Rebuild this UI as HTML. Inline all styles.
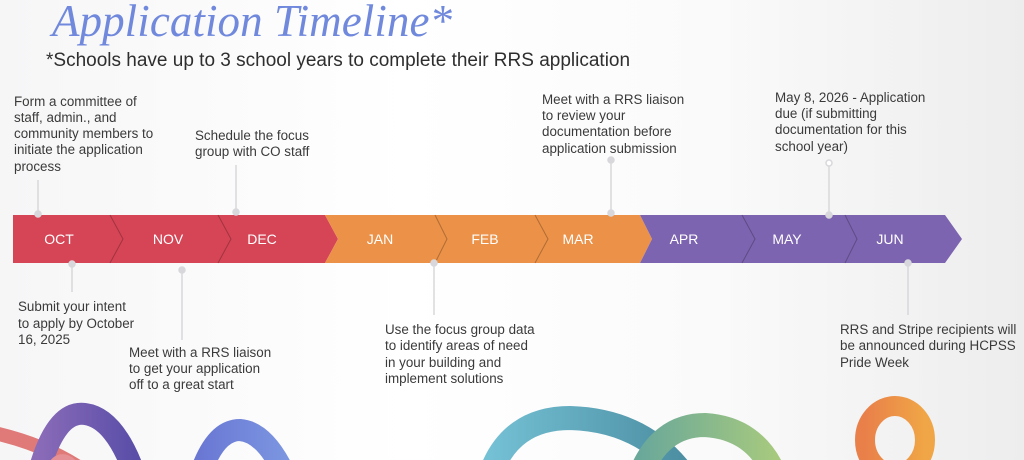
<!DOCTYPE html>
<html><head><meta charset="utf-8"><style>
html,body{margin:0;padding:0;}
body{width:1024px;height:460px;overflow:hidden;background:linear-gradient(90deg,#f6f6f7,#fff 40%,#fafafa 70%,#ededee);position:relative;font-family:"Liberation Sans",sans-serif;}
svg{position:absolute;left:0;top:0;}
</style></head><body>
<svg width="1024" height="460" viewBox="0 0 1024 460" xmlns="http://www.w3.org/2000/svg">
<defs>
<linearGradient id="g1" x1="0" x2="1"><stop offset="0" stop-color="#8a6bb8"/><stop offset="1" stop-color="#5a4ea8"/></linearGradient>
<linearGradient id="g2" x1="0" x2="1"><stop offset="0" stop-color="#6a78d4"/><stop offset="1" stop-color="#7b95e0"/></linearGradient>
<linearGradient id="g3" x1="0" x2="1"><stop offset="0" stop-color="#74c0d4"/><stop offset="1" stop-color="#4d8fa3"/></linearGradient>
<linearGradient id="g4" x1="0" x2="1"><stop offset="0" stop-color="#6aa89a"/><stop offset="1" stop-color="#a6c97e"/></linearGradient>
<linearGradient id="g5" x1="0" x2="1"><stop offset="0" stop-color="#e9804a"/><stop offset="1" stop-color="#f0a646"/></linearGradient>
</defs>
<!-- ribbons -->
<path d="M-10 432 Q50 445 90 475" fill="none" stroke="#e07a78" stroke-width="14"/>
<path d="M38 475 Q55 410 85 414 Q115 418 135 475" fill="none" stroke="url(#g1)" stroke-width="22"/>
<path d="M50 475 Q60 450 75 470" fill="none" stroke="#e59095" stroke-width="14"/>
<path d="M200 475 Q215 430 240 430 Q265 432 285 475" fill="none" stroke="url(#g2)" stroke-width="22"/>
<path d="M490 475 Q510 418 570 418 Q640 420 680 470" fill="none" stroke="url(#g3)" stroke-width="24"/>
<path d="M640 475 Q660 425 705 425 Q755 428 775 475" fill="none" stroke="url(#g4)" stroke-width="24"/>
<ellipse cx="895" cy="440" rx="30" ry="34" fill="none" stroke="url(#g5)" stroke-width="20"/>
<!-- bar -->
<polygon points="13,215 325,215 338,239 325,263 13,263" fill="#d64556"/>
<polygon points="325,215 640,215 652,239 640,263 325,263 338,239" fill="#eb9148"/>
<polygon points="640,215 945,215 962,239 945,263 640,263 652,239" fill="#7d64b0"/>
<g fill="none" stroke-opacity="0.25" stroke="#000" stroke-width="1">
<polyline points="110,215 123,239 110,263"/><polyline points="218,215 231,239 218,263"/>
<polyline points="435,215 447,239 435,263"/><polyline points="535,215 548,239 535,263"/>
<polyline points="742,215 755,239 742,263"/><polyline points="845,215 857,239 845,263"/>
</g>
<g fill="#fff" font-size="14" text-anchor="middle" font-family="Liberation Sans, sans-serif">
<text x="59" y="244">OCT</text><text x="168" y="244">NOV</text><text x="262" y="244">DEC</text>
<text x="380" y="244">JAN</text><text x="485" y="244">FEB</text><text x="578" y="244">MAR</text>
<text x="684" y="244">APR</text><text x="787" y="244">MAY</text><text x="890" y="244">JUN</text>
</g>
<!-- connectors -->
<g stroke="#d8d8dc" stroke-width="1.5" fill="#d8d8dc">
<line x1="38" y1="180" x2="38" y2="214"/><circle cx="38" cy="214" r="3"/>
<line x1="236" y1="165" x2="236" y2="212"/><circle cx="236" cy="212" r="3"/>
<line x1="611" y1="160" x2="611" y2="213"/><circle cx="611" cy="160" r="3"/><circle cx="611" cy="213" r="3"/>
<line x1="829" y1="163" x2="829" y2="215"/><circle cx="829" cy="163" r="3" fill="#fff"/><circle cx="829" cy="215" r="3"/>
<line x1="72" y1="264" x2="72" y2="292"/><circle cx="72" cy="264" r="3"/>
<line x1="182" y1="270" x2="182" y2="340"/><circle cx="182" cy="270" r="3"/>
<line x1="434" y1="263" x2="434" y2="315"/><circle cx="434" cy="263" r="3"/>
<line x1="908" y1="263" x2="908" y2="315"/><circle cx="908" cy="263" r="3"/>
</g>
<!-- title -->
<text x="52" y="36" font-family="Liberation Serif, serif" font-style="italic" font-size="45" fill="#7189dc" textLength="400">Application Timeline*</text>
<text x="46" y="66" font-size="19" fill="#2e2e2e">*Schools have up to 3 school years to complete their RRS application</text>
<g font-size="13.4" fill="#3a3a3a">
<text x="14" y="106">Form a committee of</text><text x="14" y="122">staff, admin., and</text><text x="14" y="138">community members to</text><text x="14" y="154">initiate the application</text><text x="14" y="171">process</text>
<text x="195" y="140">Schedule the  focus</text><text x="195" y="156">group with CO staff</text>
<text x="542" y="104">Meet with a RRS liaison</text><text x="542" y="120">to review your</text><text x="542" y="136">documentation before</text><text x="542" y="153">application submission</text>
<text x="775" y="102">May 8, 2026 - Application</text><text x="775" y="118">due (if submitting</text><text x="775" y="134">documentation for this</text><text x="775" y="151">school year)</text>
<text x="18" y="311">Submit your intent</text><text x="18" y="328">to apply by October</text><text x="18" y="344">16, 2025</text>
<text x="129" y="357">Meet with a RRS liaison</text><text x="129" y="373">to get your application</text><text x="129" y="389">off to a great start</text>
<text x="385" y="334">Use the focus group data</text><text x="385" y="350">to identify areas of need</text><text x="385" y="367">in your building and</text><text x="385" y="383">implement solutions</text>
<text x="840" y="334">RRS and Stripe recipients will</text><text x="840" y="350">be announced during HCPSS</text><text x="840" y="367">Pride Week</text>
</g>
</svg>
</body></html>
